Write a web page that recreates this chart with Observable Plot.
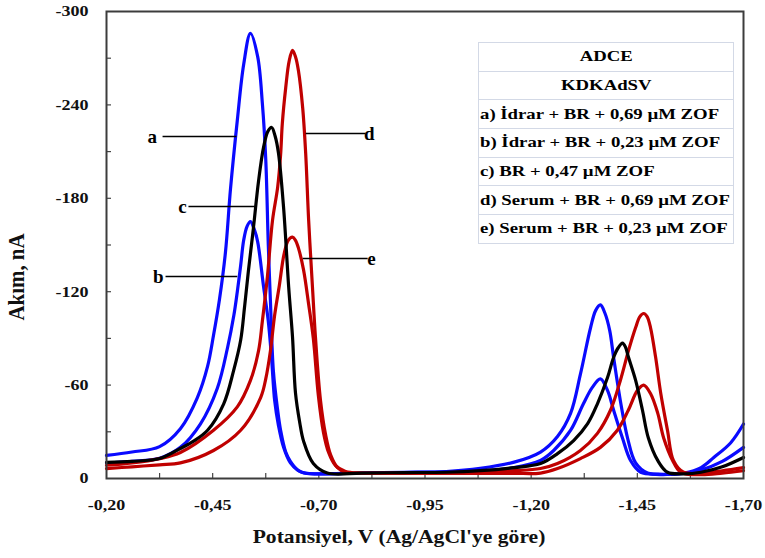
<!DOCTYPE html>
<html><head><meta charset="utf-8">
<script src="https://cdn.jsdelivr.net/npm/d3@7"></script>
<script src="https://cdn.jsdelivr.net/npm/@observablehq/plot@0.6"></script>
<style>
body{margin:0;background:#fff;}
#wrap{position:relative;width:765px;height:558px;}
#legend{position:absolute;left:478px;top:42px;border-collapse:collapse;width:256px;font-family:"Liberation Serif","Times New Roman",serif;font-weight:bold;font-size:15px;color:#000;background:#fff;}
#legend td{border:1px solid #d3d9e6;height:27.7px;padding:0 0 0 1px;white-space:nowrap;line-height:15px;}
#legend td span{display:inline-block;transform:scaleX(1.25);transform-origin:left center;}
#legend td.c{text-align:center;}
#legend td.c span{transform-origin:center center;}
</style></head>
<body>
<div id="wrap"></div>
<script>
// ---- data (V vs Ag/AgCl, current nA) ----
const curveA = [[-0.200,-14.8],[-0.260,-17],[-0.325,-20.5],[-0.374,-32],[-0.414,-52],[-0.438,-72],[-0.452,-92],[-0.466,-115],[-0.480,-145],[-0.492,-186],[-0.508,-230],[-0.523,-266],[-0.539,-286],[-0.556,-271],[-0.567,-241],[-0.575,-205],[-0.581,-150],[-0.586,-114],[-0.593,-69],[-0.603,-44],[-0.610,-31],[-0.622,-17],[-0.633,-11],[-0.650,-5.5],[-0.665,-3.5],[-0.70,-3],[-0.80,-3.5],[-0.90,-4],[-1.00,-4.5],[-1.08,-6.5],[-1.16,-10.5],[-1.222,-17],[-1.262,-27],[-1.293,-42],[-1.316,-67],[-1.340,-97],[-1.352,-108],[-1.363,-111.5],[-1.374,-106],[-1.385,-95],[-1.394,-78],[-1.410,-50],[-1.427,-26],[-1.446,-10],[-1.474,-3.5],[-1.52,-2.6],[-1.56,-3.5],[-1.60,-7],[-1.63,-13.5],[-1.67,-23],[-1.70,-35]];
const curveB = [[-0.200,-10],[-0.260,-11],[-0.325,-13],[-0.374,-20],[-0.421,-35],[-0.461,-58],[-0.485,-84],[-0.500,-105],[-0.508,-120],[-0.516,-137],[-0.523,-153],[-0.531,-162],[-0.539,-165],[-0.548,-160],[-0.556,-152],[-0.570,-123],[-0.581,-101],[-0.589,-76],[-0.596,-50],[-0.605,-34],[-0.617,-20],[-0.633,-10],[-0.652,-5],[-0.671,-3.3],[-0.70,-3],[-0.80,-3.5],[-0.90,-3.8],[-1.00,-4.2],[-1.08,-5],[-1.16,-7],[-1.222,-11.6],[-1.253,-18],[-1.293,-31],[-1.323,-48],[-1.344,-58.5],[-1.363,-64],[-1.380,-56.5],[-1.394,-44],[-1.415,-26],[-1.434,-11.6],[-1.458,-4],[-1.50,-2.8],[-1.55,-3],[-1.60,-5.5],[-1.65,-11],[-1.70,-20]];
const curveC = [[-0.200,-10.3],[-0.260,-11],[-0.325,-12.8],[-0.374,-19.3],[-0.405,-24],[-0.438,-31],[-0.476,-48],[-0.499,-69],[-0.516,-89],[-0.525,-110],[-0.534,-133],[-0.546,-161],[-0.558,-191],[-0.570,-213],[-0.580,-223],[-0.589,-225.5],[-0.597,-220],[-0.605,-209],[-0.617,-174],[-0.629,-123],[-0.638,-91],[-0.645,-55],[-0.655,-36],[-0.664,-24],[-0.687,-9.6],[-0.720,-3.5],[-0.80,-3.5],[-0.90,-3.8],[-1.00,-4],[-1.08,-5],[-1.16,-7],[-1.222,-9.6],[-1.262,-16],[-1.300,-24.4],[-1.333,-35.3],[-1.356,-48],[-1.380,-65],[-1.394,-77.7],[-1.405,-84],[-1.415,-87],[-1.422,-84.5],[-1.429,-78],[-1.446,-63],[-1.462,-44],[-1.476,-26],[-1.498,-11.6],[-1.521,-4],[-1.56,-3],[-1.60,-4],[-1.65,-7.5],[-1.70,-13.5]];
const curveD = [[-0.200,-8.5],[-0.260,-10],[-0.325,-12.8],[-0.374,-16.7],[-0.452,-31],[-0.508,-46],[-0.539,-63],[-0.558,-82],[-0.567,-101],[-0.579,-130],[-0.591,-166],[-0.603,-187],[-0.610,-208],[-0.614,-228],[-0.622,-251],[-0.630,-268],[-0.638,-275],[-0.645,-271],[-0.652,-262],[-0.662,-238],[-0.669,-209],[-0.676,-166],[-0.685,-123],[-0.692,-91],[-0.704,-50],[-0.716,-28],[-0.728,-15],[-0.744,-7],[-0.763,-4],[-0.80,-3.5],[-0.90,-3.5],[-1.00,-3.8],[-1.08,-4.2],[-1.16,-5],[-1.222,-6.4],[-1.262,-9.6],[-1.316,-18],[-1.356,-29],[-1.387,-44],[-1.410,-63],[-1.429,-82],[-1.446,-97],[-1.456,-104],[-1.465,-106],[-1.473,-104],[-1.481,-97],[-1.493,-78],[-1.505,-55],[-1.521,-31],[-1.535,-11.6],[-1.559,-4],[-1.60,-3.5],[-1.65,-5],[-1.70,-7]];
const curveE = [[-0.200,-6.4],[-0.260,-7.5],[-0.325,-8.8],[-0.374,-10],[-0.452,-18],[-0.516,-31],[-0.563,-52],[-0.575,-64],[-0.586,-82],[-0.596,-105],[-0.607,-124],[-0.618,-144],[-0.628,-153],[-0.638,-155],[-0.645,-153],[-0.652,-148],[-0.664,-134],[-0.676,-112],[-0.687,-90],[-0.699,-53],[-0.711,-29.5],[-0.723,-16.7],[-0.739,-8.4],[-0.763,-4.5],[-0.80,-3.5],[-0.90,-3.3],[-1.00,-3.3],[-1.08,-3.3],[-1.16,-3.3],[-1.222,-3.5],[-1.262,-6.4],[-1.316,-12.8],[-1.363,-20],[-1.403,-31],[-1.429,-44],[-1.450,-56.5],[-1.465,-60],[-1.481,-54.6],[-1.498,-42],[-1.512,-26],[-1.533,-11.6],[-1.552,-4],[-1.60,-2.5],[-1.65,-3.5],[-1.70,-5]];

const curveKeys = ["a", "b", "c", "d", "e"];
const xTickLabels = [-0.20, -0.45, -0.70, -0.95, -1.20, -1.45, -1.70];
const xMinorTicks = [-0.325, -0.45, -0.575, -0.70, -0.825, -0.95, -1.075, -1.20, -1.325, -1.45, -1.575];
const yTickLabels = [0, -60, -120, -180, -240, -300];
const yMinorTicks = [-30, -60, -90, -120, -150, -180, -210, -240, -270];
const annLabels = ["a", "b", "c", "d", "e"];
const annLineFrom = [-0.332, -0.339, -0.393, -0.669, -0.662];
const annLineTo = [-0.506, -0.508, -0.551, -0.810, -0.815];
const annTextX = [-0.308, -0.322, -0.379, -0.819, -0.824];
const annY = [-219.7, -129.8, -174.7, -221.6, -141.3];
const legendHeader = ["ADCE", "KDKAdSV"];
const legendItems = ["a) İdrar + BR + 0,69 µM ZOF", "b) İdrar + BR + 0,23 µM ZOF", "c) BR + 0,47 µM ZOF", "d) Serum + BR + 0,69 µM ZOF", "e) Serum + BR + 0,23 µM ZOF"];
const xTitle = "Potansiyel, V (Ag/AgCl'ye göre)";
const yTitle = "Akım, nA";

// ---- build ----
const curveData = {a: curveA, b: curveB, c: curveC, d: curveD, e: curveE};
const drawOrder = ["b", "a", "e", "d", "c"];
const rows = drawOrder.flatMap(k => curveData[k].map(([v, i]) => ({curve: k, v, i})));
const ann = annLabels.map((l, j) => ({label: l, x1: annLineFrom[j], x2: annLineTo[j], tx: annTextX[j], y: annY[j]}));

const W = 765, H = 558, mL = 106, mR = 22, mT = 11, mB = 80;
const plotW = W - mL - mR, plotH = H - mT - mB;
const fmtX = d => d.toFixed(2).replace(".", ",");

const chart = Plot.plot({
  width: W, height: H,
  marginLeft: mL, marginRight: mR, marginTop: mT, marginBottom: mB,
  style: {fontFamily: "'Liberation Serif','Times New Roman',serif", fontSize: "15px", fontWeight: "bold", color: "#111", background: "#fff"},
  x: {domain: [-0.2, -1.7], label: null},
  y: {domain: [0, -300], label: null},
  color: {domain: curveKeys, range: ["#0a0aff", "#0a0aff", "#000000", "#c00000", "#c00000"]},
  marks: [
    Plot.axisX({ticks: xTickLabels, tickSize: 0, tickPadding: 21, tickFormat: fmtX}),
    Plot.axisY({ticks: yTickLabels, tickSize: 0, tickPadding: 18, tickFormat: d => String(d)}),
    Plot.tickX(xMinorTicks, {stroke: "#444", strokeWidth: 1.2, insetTop: plotH - 5}),
    Plot.tickY(yMinorTicks, {stroke: "#444", strokeWidth: 1.2, insetRight: plotW - 5}),
    Plot.line(rows, {x: "v", y: "i", z: "curve", stroke: "curve", curve: "catmull-rom", strokeWidth: 3.2, strokeLinejoin: "round"}),
    Plot.link(ann, {x1: "x1", x2: "x2", y1: "y", y2: "y", stroke: "#000", strokeWidth: 1.4}),
    Plot.text(ann, {x: "tx", y: "y", text: "label", fontSize: 19, fontWeight: "bold", fill: "#000"}),
    Plot.frame({stroke: "#3c3c3c", strokeWidth: 2})
  ]
});

const wrap = document.getElementById("wrap");
wrap.appendChild(chart);

// horizontally stretch tick labels (wrap each in a scaled group about its anchor)
const NS = "http://www.w3.org/2000/svg";
function stretchAbout(el, sx, anchor) {
  const r = el.getBoundingClientRect();
  const ax = anchor === "end" ? r.right : (r.left + r.right) / 2;
  const ay = (r.top + r.bottom) / 2;
  const parent = el.parentNode;
  const p = new DOMPoint(ax, ay).matrixTransform(parent.getScreenCTM().inverse());
  const g = document.createElementNS(NS, "g");
  g.setAttribute("transform", `translate(${p.x},${p.y}) scale(${sx},1) translate(${-p.x},${-p.y})`);
  parent.insertBefore(g, el);
  g.appendChild(el);
}
chart.querySelectorAll("g[aria-label='x-axis tick label'] text").forEach(el => stretchAbout(el, 1.2, "middle"));
chart.querySelectorAll("g[aria-label='y-axis tick label'] text").forEach(el => stretchAbout(el, 1.2, "end"));

const svg = d3.select(chart);
svg.append("text")
  .attr("transform", "translate(399,543) scale(1.2,1)")
  .attr("text-anchor", "middle")
  .style("font-size", "18px").style("font-weight", "bold").attr("fill", "#111")
  .text(xTitle);
svg.append("text")
  .attr("transform", "translate(24,277) rotate(-90) scale(1.1,1.2)")
  .attr("text-anchor", "middle")
  .style("font-size", "19px").style("font-weight", "bold").attr("fill", "#111")
  .text(yTitle);

// legend table
const table = d3.select(wrap).append("table").attr("id", "legend");
legendHeader.forEach(h => table.append("tr").append("td").attr("class", "c").append("span").text(h));
legendItems.forEach(h => table.append("tr").append("td").append("span").text(h));
</script>
</body></html>
